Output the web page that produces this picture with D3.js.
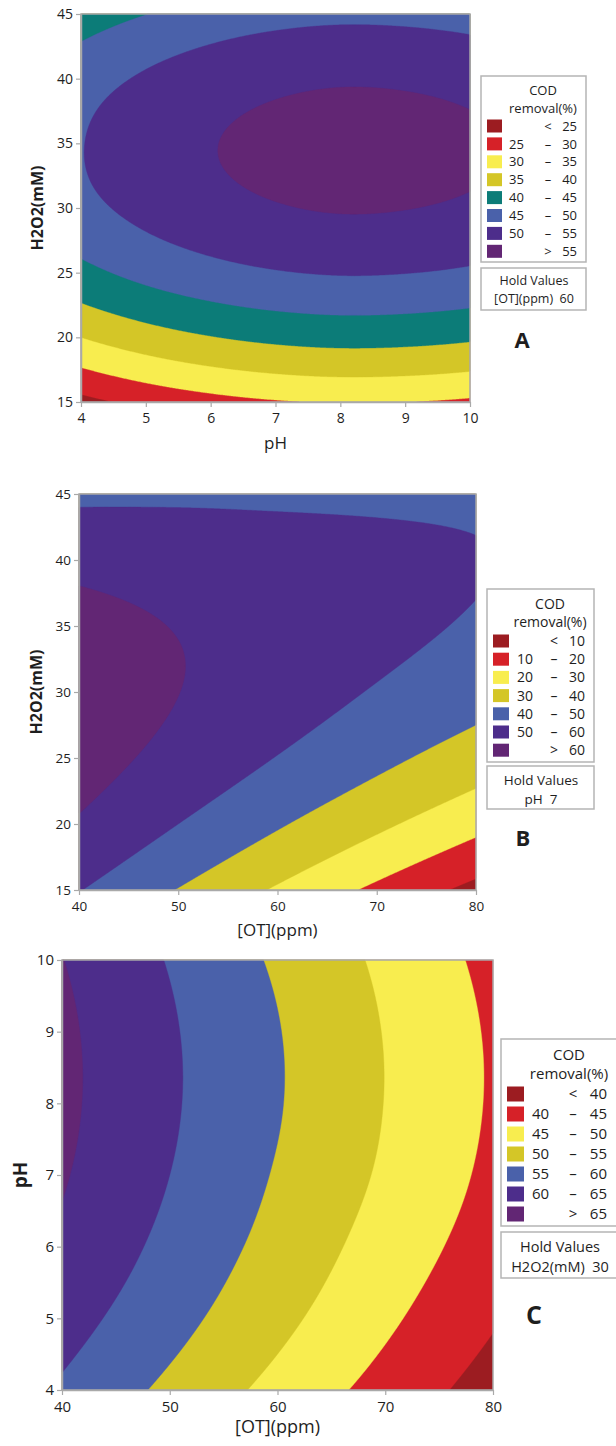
<!DOCTYPE html>
<html>

<head>
  <meta charset="utf-8">
  <title>COD removal contour plots</title>
  <style>
    body { margin: 0; background: #fff; }
    svg text { font-family: "Open Sans", "Noto Sans", sans-serif; fill: #1e1e1e; }
  </style>
</head>

<body>

  <svg id="main" width="616" height="1446"></svg>

  <script src="https://cdn.jsdelivr.net/npm/d3@7"></script>
  <script>

    // ---- data ----
    // A: pH vs H2O2, [OT] held at 60 ppm (rows follow h2o2A, columns follow phA)
    const phA = [4, 5, 6, 7, 8, 9, 10]
    const h2o2A = [15, 20, 25, 30, 35, 40, 45]
    const codA = [
      [23.5, 26.3, 28.3, 29.6, 30.2, 30.0, 29.2],
      [35.0, 37.8, 39.8, 41.1, 41.7, 41.5, 40.7],
      [43.6, 46.4, 48.4, 49.7, 50.3, 50.1, 49.3],
      [48.6, 51.4, 53.4, 54.7, 55.3, 55.1, 54.3],
      [49.8, 52.8, 54.8, 56.1, 56.7, 56.5, 55.7],
      [47.8, 50.6, 52.6, 53.9, 54.5, 54.3, 53.5],
      [42.1, 44.9, 46.9, 48.2, 48.8, 48.6, 47.8]
    ]
    const levelsA = [25, 30, 35, 40, 45, 50, 55]

    // B: [OT] vs H2O2, pH held at 7 (rows follow h2o2B, columns follow otB)
    const otB = [40, 50, 60, 70, 80]
    const h2o2B = [15, 20, 25, 30, 35, 40, 45]
    const codB = [
      [50.4, 39.6, 28.8, 17.9, 7.0],
      [59.0, 50.0, 41.0, 32.0, 22.9],
      [64.0, 56.9, 49.7, 42.5, 35.2],
      [65.4, 60.1, 54.7, 49.3, 43.9],
      [63.1, 59.6, 56.1, 52.6, 49.0],
      [57.3, 55.6, 53.9, 52.2, 50.4],
      [47.8, 48.2, 48.1, 48.1, 48.2]
    ]
    const levelsB = [10, 20, 30, 40, 50, 60]

    // C: [OT] vs pH, H2O2 held at 30 mM (rows follow phC, columns follow otC)
    const otC = [40, 50, 60, 70, 80]
    const phC = [4, 5, 6, 7, 8, 9, 10]
    const codC = [
      [59.3, 53.9, 48.5, 43.2, 37.8],
      [62.0, 56.7, 51.3, 45.9, 40.5],
      [64.1, 58.7, 53.3, 47.9, 42.6],
      [65.4, 60.0, 54.6, 49.3, 43.9],
      [66.0, 60.6, 55.3, 49.9, 44.5],
      [65.9, 60.5, 55.2, 49.8, 44.4],
      [65.1, 59.7, 54.3, 49.0, 43.6]
    ]
    const levelsC = [40, 45, 50, 55, 60, 65]

    const c = {
      darkred: '#9c1c21', red: '#d62128', yellow: '#f8ed4f', olive: '#d4c627',
      teal: '#0c7c78', blue: '#4a61aa', indigo: '#4d2d8b', purple: '#622674'
    }
    const colorsA = [c.darkred, c.red, c.yellow, c.olive, c.teal, c.blue, c.indigo, c.purple]
    const colorsBC = [c.darkred, c.red, c.yellow, c.olive, c.blue, c.indigo, c.purple]

    const svg = d3.select('#main')

    const panels = [
      {
        xs: phA, ys: h2o2A, z: codA, levels: levelsA, colors: colorsA,
        left: 81, top: 14, right: 470, bottom: 402, tickFont: 14,
        xTitle: 'pH', xTitleY: 449, xTitleSize: 17, xTitleWeight: 'normal',
        yTitle: 'H2O2(mM)', yTitleX: 43, yTitleSize: 16,
        legend: { x: 481, y: 76, w: 105, h: 186, font: 13, titleX: 543, title1: 95, title2: 113,
          row0: 126, step: 17.9, swX: 487, swW: 15, swH: 13, loX: 509, signX: 548, hiX: 577 },
        hold: { y: 268, h: 42, cx: 534, line1: 285, line2: 303, font: 12.5, text: '[OT](ppm)\u00a0\u00a060' },
        tag: { text: 'A', x: 522, y: 348, size: 22 }
      },
      {
        xs: otB, ys: h2o2B, z: codB, levels: levelsB, colors: colorsBC,
        left: 79, top: 494, right: 476, bottom: 890, tickFont: 13.5,
        xTitle: '[OT](ppm)', xTitleY: 936, xTitleSize: 17, xTitleWeight: 'normal',
        yTitle: 'H2O2(mM)', yTitleX: 42, yTitleSize: 16,
        legend: { x: 487, y: 589, w: 107, h: 173, font: 14, titleX: 550, title1: 609, title2: 627,
          row0: 641, step: 18.2, swX: 493, swW: 16, swH: 13, loX: 517, signX: 554, hiX: 585 },
        hold: { y: 766, h: 43, cx: 541, line1: 785, line2: 804, font: 13.5, text: 'pH\u00a0\u00a07' },
        tag: { text: 'B', x: 523, y: 846, size: 22 }
      },
      {
        xs: otC, ys: phC, z: codC, levels: levelsC, colors: colorsBC,
        left: 62, top: 960, right: 493, bottom: 1390, tickFont: 15,
        xTitle: '[OT](ppm)', xTitleY: 1433, xTitleSize: 18, xTitleWeight: 'normal',
        yTitle: 'pH', yTitleX: 27, yTitleSize: 19,
        legend: { x: 501, y: 1039, w: 122, h: 187, font: 15, titleX: 569, title1: 1060, title2: 1079,
          row0: 1094, step: 20, swX: 507, swW: 17, swH: 15, loX: 532, signX: 573, hiX: 607 },
        hold: { y: 1232, h: 46, cx: 560, line1: 1252, line2: 1272, font: 14.5, text: 'H2O2(mM)\u00a0\u00a030' },
        tag: { text: 'C', x: 534, y: 1324, size: 25 }
      }
    ]

    panels.forEach(drawPanel)

    // Keys cubic convolution kernel, used to render the read grid as a smooth surface
    function kernel(s) {
      s = Math.abs(s)
      if (s <= 1) return 1.5 * s * s * s - 2.5 * s * s + 1
      if (s < 2) return -0.5 * s * s * s + 2.5 * s * s - 4 * s + 2
      return 0
    }

    function padRow(r) {
      const n = r.length
      return [3 * r[0] - 3 * r[1] + r[2], ...r, 3 * r[n - 1] - 3 * r[n - 2] + r[n - 3]]
    }

    function padGrid(z) {
      const rows = z.map(padRow)
      const n = rows.length
      const first = rows[0].map((_, i) => 3 * rows[0][i] - 3 * rows[1][i] + rows[2][i])
      const last = rows[0].map((_, i) => 3 * rows[n - 1][i] - 3 * rows[n - 2][i] + rows[n - 3][i])
      return [first, ...rows, last]
    }

    function sample(zp, u, v) {
      const nc = zp[0].length - 2, nr = zp.length - 2
      const i0 = Math.max(0, Math.min(Math.floor(u), nc - 2))
      const j0 = Math.max(0, Math.min(Math.floor(v), nr - 2))
      let s = 0
      for (let j = j0 - 1; j <= j0 + 2; j++) {
        const wy = kernel(v - j)
        for (let i = i0 - 1; i <= i0 + 2; i++) {
          s += wy * kernel(u - i) * zp[j + 1][i + 1]
        }
      }
      return s
    }

    function drawPanel(p) {
      const x = d3.scaleLinear().domain(d3.extent(p.xs)).range([p.left, p.right])
      const y = d3.scaleLinear().domain(d3.extent(p.ys)).range([p.bottom, p.top])
      const w = Math.round(p.right - p.left)
      const h = Math.round(p.bottom - p.top)
      const zp = padGrid(p.z)
      const dx = p.xs[1] - p.xs[0], dy = p.ys[1] - p.ys[0]

      const values = new Float64Array(w * h)
      for (let j = 0; j < h; j++) {
        const v = (y.invert(p.top + j + 0.5) - p.ys[0]) / dy
        for (let i = 0; i < w; i++) {
          const u = (x.invert(p.left + i + 0.5) - p.xs[0]) / dx
          values[j * w + i] = sample(zp, u, v)
        }
      }

      const contours = d3.contours().size([w, h]).thresholds(p.levels)(values)

      const g = svg.append('g').attr('transform', `translate(${p.left},${p.top})`)
      g.append('rect').attr('width', w).attr('height', h).attr('fill', p.colors[0])
      g.selectAll('path.band')
        .data(contours)
        .join('path')
        .attr('class', 'band')
        .attr('d', d3.geoPath())
        .attr('fill', (d, i) => p.colors[i + 1])
        .attr('stroke', (d, i) => p.colors[i + 1])
        .attr('stroke-width', 0.4)

      // frame
      svg.append('rect')
        .attr('x', p.left).attr('y', p.top)
        .attr('width', p.right - p.left).attr('height', p.bottom - p.top)
        .attr('fill', 'none').attr('stroke', '#a9a9a9').attr('stroke-width', 1.5)

      const fmt = d3.format('d')
      const xAxis = svg.append('g')
        .attr('transform', `translate(0,${p.bottom})`)
        .call(d3.axisBottom(x).tickValues(p.xs).tickFormat(fmt).tickSize(5).tickPadding(6).tickSizeOuter(0))
      const yAxis = svg.append('g')
        .attr('transform', `translate(${p.left},0)`)
        .call(d3.axisLeft(y).tickValues(p.ys).tickFormat(fmt).tickSize(5).tickPadding(3).tickSizeOuter(0))
      ;[xAxis, yAxis].forEach(a => {
        a.select('.domain').attr('stroke', '#a9a9a9').attr('stroke-width', 1.5)
        a.selectAll('.tick line').attr('stroke', '#a9a9a9').attr('stroke-width', 1.2)
        a.selectAll('.tick text').attr('font-size', p.tickFont).attr('fill', '#1e1e1e')
      })

      svg.append('text').text(p.xTitle)
        .attr('x', (p.left + p.right) / 2).attr('y', p.xTitleY)
        .attr('text-anchor', 'middle')
        .attr('font-size', p.xTitleSize).attr('font-weight', p.xTitleWeight)

      svg.append('text').text(p.yTitle)
        .attr('transform', `translate(${p.yTitleX},${(p.top + p.bottom) / 2}) rotate(-90)`)
        .attr('text-anchor', 'middle')
        .attr('font-size', p.yTitleSize).attr('font-weight', 'bold')

      drawLegend(p)
    }

    function drawLegend(p) {
      const L = p.legend
      const lg = svg.append('g').attr('font-size', L.font)
      lg.append('rect')
        .attr('x', L.x).attr('y', L.y).attr('width', L.w).attr('height', L.h)
        .attr('fill', '#fff').attr('stroke', '#b5b5b5').attr('stroke-width', 1.5)
      lg.append('text').text('COD').attr('x', L.titleX).attr('y', L.title1).attr('text-anchor', 'middle')
      lg.append('text').text('removal(%)').attr('x', L.titleX).attr('y', L.title2).attr('text-anchor', 'middle')

      const n = p.levels.length
      p.colors.forEach((col, k) => {
        const cy = L.row0 + k * L.step
        lg.append('rect')
          .attr('x', L.swX).attr('y', cy - L.swH / 2)
          .attr('width', L.swW).attr('height', L.swH)
          .attr('fill', col)
        const lo = k === 0 || k === n ? '' : p.levels[k - 1]
        const sign = k === 0 ? '<' : k === n ? '>' : '–'
        const hi = k === n ? p.levels[n - 1] : p.levels[k]
        const base = cy + L.font * 0.36
        lg.append('text').text(lo).attr('x', L.loX).attr('y', base)
        lg.append('text').text(sign).attr('x', L.signX).attr('y', base).attr('text-anchor', 'middle')
        lg.append('text').text(hi).attr('x', L.hiX).attr('y', base).attr('text-anchor', 'end')
      })

      const H = p.hold
      lg.append('rect')
        .attr('x', L.x).attr('y', H.y).attr('width', L.w).attr('height', H.h)
        .attr('fill', '#fff').attr('stroke', '#b5b5b5').attr('stroke-width', 1.5)
      lg.append('text').text('Hold Values').attr('x', H.cx).attr('y', H.line1)
        .attr('text-anchor', 'middle').attr('font-size', H.font)
      lg.append('text').text(H.text).attr('x', H.cx).attr('y', H.line2)
        .attr('text-anchor', 'middle').attr('font-size', H.font)

      svg.append('text').text(p.tag.text)
        .attr('x', p.tag.x).attr('y', p.tag.y)
        .attr('text-anchor', 'middle')
        .attr('font-size', p.tag.size).attr('font-weight', 'bold')
    }

  </script>
</body>

</html>
